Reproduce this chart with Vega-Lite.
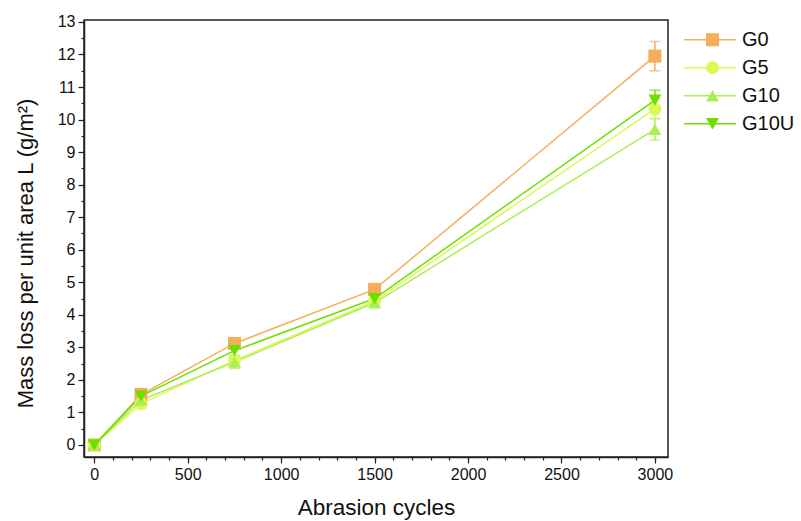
{
  "$schema": "https://vega.github.io/schema/vega-lite/v6.json",
  "width": 584,
  "height": 437,
  "autosize": "none",
  "padding": {"left": 84, "top": 20, "right": 133, "bottom": 64},
  "background": "white",
  "config": {
    "font": "Liberation Sans",
    "view": {"stroke": "#222222", "strokeWidth": 1.5},
    "axis": {"domainColor": "#222222", "domainWidth": 1.5, "tickColor": "#222222", "tickWidth": 1.2, "grid": false, "labelColor": "#111111", "titleColor": "#111111", "labelFont": "Liberation Sans", "titleFont": "Liberation Sans", "titleFontWeight": "normal"}
  },
  "data": {"values": [
    {"series": "G0", "cycles": 0, "L": 0, "err": 0.05},
    {"series": "G0", "cycles": 250, "L": 1.55, "err": 0.12},
    {"series": "G0", "cycles": 750, "L": 3.12, "err": 0.1},
    {"series": "G0", "cycles": 1500, "L": 4.78, "err": 0.1},
    {"series": "G0", "cycles": 3000, "L": 11.95, "err": 0.45},
    {"series": "G5", "cycles": 0, "L": 0, "err": 0.05},
    {"series": "G5", "cycles": 250, "L": 1.27, "err": 0.1},
    {"series": "G5", "cycles": 750, "L": 2.6, "err": 0.1},
    {"series": "G5", "cycles": 1500, "L": 4.42, "err": 0.1},
    {"series": "G5", "cycles": 3000, "L": 10.33, "err": 0.3},
    {"series": "G10", "cycles": 0, "L": 0, "err": 0.05},
    {"series": "G10", "cycles": 250, "L": 1.38, "err": 0.25},
    {"series": "G10", "cycles": 750, "L": 2.55, "err": 0.2},
    {"series": "G10", "cycles": 1500, "L": 4.37, "err": 0.1},
    {"series": "G10", "cycles": 3000, "L": 9.7, "err": 0.33},
    {"series": "G10U", "cycles": 0, "L": 0, "err": 0.05},
    {"series": "G10U", "cycles": 250, "L": 1.5, "err": 0.15},
    {"series": "G10U", "cycles": 750, "L": 2.9, "err": 0.2},
    {"series": "G10U", "cycles": 1500, "L": 4.5, "err": 0.1},
    {"series": "G10U", "cycles": 3000, "L": 10.6, "err": 0.3}
  ]},
  "resolve": {"axis": {"x": "independent", "y": "independent"}},
  "layer": [
    {
      "mark": {"type": "line", "strokeWidth": 1.5},
      "encoding": {
        "x": {"field": "cycles", "type": "quantitative",
          "scale": {"domain": [-55, 3070], "nice": false, "zero": false},
          "axis": {"orient": "bottom", "values": [0, 500, 1000, 1500, 2000, 2500, 3000], "format": "d", "tickSize": 6, "labelFontSize": 16, "labelPadding": 3, "title": "Abrasion cycles", "titleFontSize": 22.5, "titlePadding": 14}},
        "y": {"field": "L", "type": "quantitative",
          "scale": {"domain": [-0.37, 13.06], "nice": false, "zero": false},
          "axis": {"orient": "left", "values": [0,1,2,3,4,5,6,7,8,9,10,11,12,13], "format": "d", "tickSize": 6, "labelFontSize": 16, "labelPadding": 3, "title": "Mass loss per unit area L (g/m²)", "titleFontSize": 22, "titlePadding": 20, "titleY": 233}},
        "stroke": {"field": "series", "type": "nominal",
          "scale": {"domain": ["G0", "G5", "G10", "G10U", "none"], "range": ["#F5AF5B", "#DDF955", "#ACEF55", "#6BE000", "#999999"]},
          "legend": {"orient": "none", "legendX": 599, "legendY": 7, "title": null, "values": ["G0", "G5", "G10", "G10U"], "symbolType": "stroke", "symbolSize": 2704, "symbolStrokeWidth": 1.5, "clipHeight": 25.5, "rowPadding": 2, "labelFontSize": 20, "labelOffset": 5, "padding": 0, "labelColor": "#111111"}},
        "order": {"field": "cycles", "type": "quantitative"}
      }
    },
    {
      "mark": {"type": "errorbar", "ticks": {"size": 11}, "thickness": 1.5},
      "encoding": {
        "x": {"field": "cycles", "type": "quantitative", "scale": {"domain": [-55, 3070], "nice": false, "zero": false}, "axis": null},
        "y": {"field": "L", "type": "quantitative", "scale": {"domain": [-0.37, 13.06], "nice": false, "zero": false}, "axis": null},
        "yError": {"field": "err"},
        "color": {"field": "series", "type": "nominal",
          "scale": {"domain": ["G0", "G5", "G10", "G10U", "unused"], "range": ["#F5AF5B", "#DDF955", "#ACEF55", "#6BE000", "#888888"]},
          "legend": null}
      }
    },
    {
      "mark": {"type": "point", "filled": true, "opacity": 1, "size": 170},
      "encoding": {
        "x": {"field": "cycles", "type": "quantitative",
          "scale": {"domain": [-55, 3070], "nice": false, "zero": false},
          "axis": {"orient": "bottom", "values": [0,100,200,300,400,500,600,700,800,900,1000,1100,1200,1300,1400,1500,1600,1700,1800,1900,2000,2100,2200,2300,2400,2500,2600,2700,2800,2900,3000], "tickSize": 3, "labels": false, "domain": false, "title": null}},
        "y": {"field": "L", "type": "quantitative",
          "scale": {"domain": [-0.37, 13.06], "nice": false, "zero": false},
          "axis": {"orient": "left", "values": [0,0.5,1,1.5,2,2.5,3,3.5,4,4.5,5,5.5,6,6.5,7,7.5,8,8.5,9,9.5,10,10.5,11,11.5,12,12.5,13], "tickSize": 3, "labels": false, "domain": false, "title": null}},
        "fill": {"field": "series", "type": "nominal",
          "scale": {"domain": ["G0", "G5", "G10", "G10U"], "range": ["#F5AF5B", "#DDF955", "#ACEF55", "#6BE000"]},
          "legend": {"orient": "none", "legendX": 618.5, "legendY": 7, "title": null, "symbolSize": 170, "clipHeight": 25.5, "rowPadding": 2, "labelFontSize": 20, "labelOffset": 6, "padding": 0, "labelExpr": "''", "symbolStrokeWidth": 0}},
        "shape": {"field": "series", "type": "nominal",
          "scale": {"domain": ["G0", "G5", "G10", "G10U"], "range": ["square", "circle", "triangle-up", "triangle-down"]},
          "legend": {"orient": "none", "legendX": 618.5, "legendY": 7, "title": null, "symbolSize": 170, "clipHeight": 25.5, "rowPadding": 2, "labelFontSize": 20, "labelOffset": 6, "padding": 0, "labelExpr": "''", "symbolStrokeWidth": 0}}
      }
    }
  ]
}
